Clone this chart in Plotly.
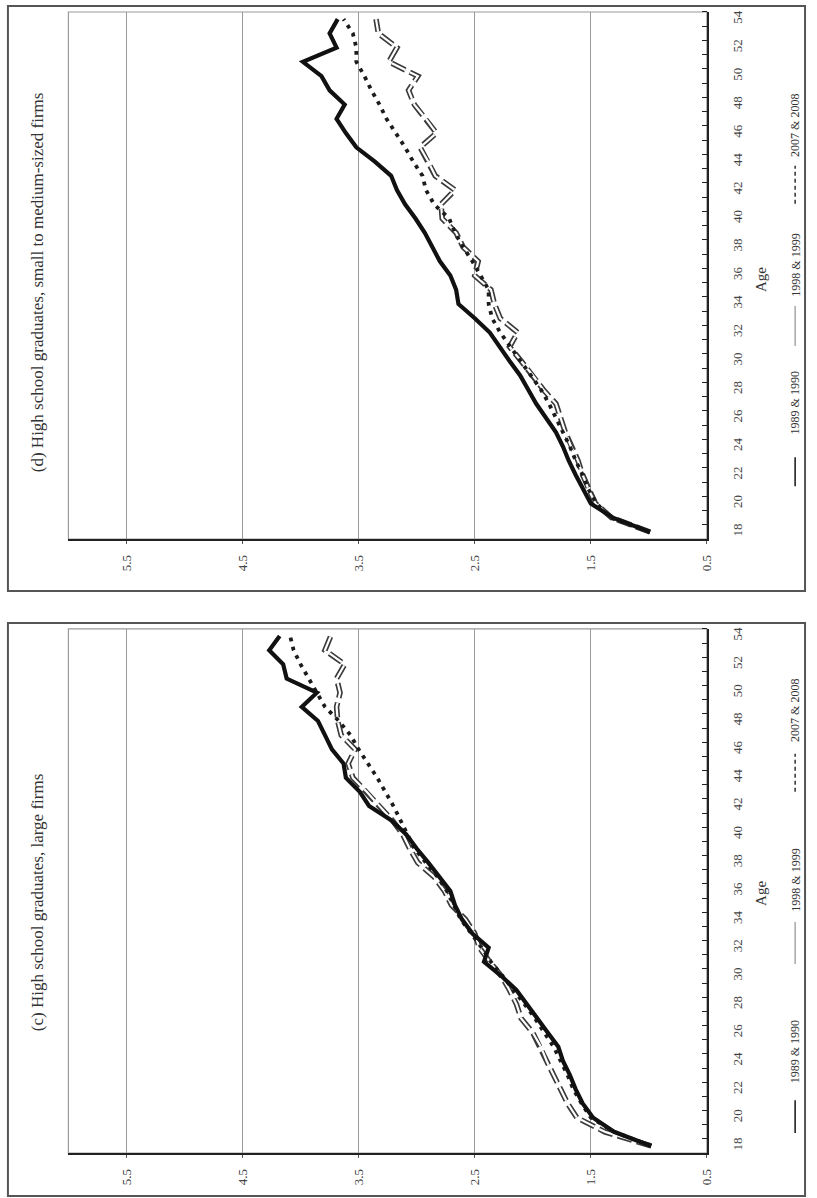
import plotly.graph_objects as go

# ---------------- data ----------------
ages = list(range(18, 55))
age_tick_vals = list(range(18, 55, 2))
age_tick_text = [str(a) for a in age_tick_vals]
value_tick_vals = [0.5, 1.5, 2.5, 3.5, 4.5, 5.5]
value_tick_text = ["0.5", "1.5", "2.5", "3.5", "4.5", "5.5"]
series_names = ["1989 & 1990", "1998 & 1999", "2007 & 2008"]

# (c) High school graduates, large firms
large_8990 = [0.98, 1.30, 1.48, 1.57, 1.63, 1.68, 1.74, 1.78, 1.87, 1.96,
              2.04, 2.14, 2.27, 2.42, 2.38, 2.52, 2.61, 2.67, 2.71, 2.80,
              2.90, 3.00, 3.09, 3.22, 3.41, 3.49, 3.61, 3.63, 3.73, 3.79,
              3.85, 3.99, 3.86, 4.12, 4.15, 4.27, 4.18]
large_9899 = [0.98, 1.30, 1.50, 1.58, 1.65, 1.70, 1.76, 1.82, 1.90, 1.98,
              2.07, 2.16, 2.26, 2.36, 2.44, 2.53, 2.62, 2.68, 2.74, 2.82,
              2.92, 3.02, 3.08, 3.14, 3.20, 3.27, 3.34, 3.42, 3.50, 3.57,
              3.67, 3.79, 3.86, 3.93, 4.00, 4.06, 4.09]
large_0708 = [0.98, 1.38, 1.62, 1.70, 1.76, 1.82, 1.88, 1.93, 2.00, 2.10,
              2.14, 2.20, 2.27, 2.37, 2.46, 2.50, 2.58, 2.70, 2.76, 2.85,
              2.99, 3.06, 3.12, 3.21, 3.32, 3.43, 3.55, 3.59, 3.53, 3.65,
              3.68, 3.69, 3.66, 3.69, 3.62, 3.79, 3.74]

# (d) High school graduates, small to medium-sized firms
small_8990 = [0.99, 1.31, 1.50, 1.57, 1.63, 1.69, 1.74, 1.80, 1.89, 1.97,
              2.04, 2.11, 2.20, 2.29, 2.37, 2.50, 2.64, 2.66, 2.71, 2.80,
              2.86, 2.93, 3.01, 3.10, 3.17, 3.22, 3.36, 3.52, 3.61, 3.69,
              3.62, 3.75, 3.82, 3.98, 3.69, 3.75, 3.68]
small_9899 = [0.99, 1.33, 1.45, 1.52, 1.57, 1.63, 1.68, 1.74, 1.80, 1.86,
              1.93, 2.02, 2.10, 2.20, 2.28, 2.35, 2.38, 2.38, 2.45, 2.52,
              2.60, 2.67, 2.72, 2.85, 2.92, 2.95, 3.03, 3.10, 3.18, 3.26,
              3.32, 3.39, 3.45, 3.52, 3.52, 3.55, 3.63]
small_0708 = [0.99, 1.32, 1.46, 1.52, 1.57, 1.61, 1.67, 1.72, 1.76, 1.80,
              1.91, 2.00, 2.10, 2.20, 2.13, 2.28, 2.33, 2.36, 2.50, 2.47,
              2.60, 2.66, 2.78, 2.79, 2.67, 2.84, 2.90, 2.97, 2.83, 2.92,
              3.02, 3.07, 2.99, 3.24, 3.17, 3.33, 3.35]

title_d = "(d) High school graduates, small to medium-sized firms"
title_c = "(c) High school graduates, large firms"

# ---------------- layout helpers ----------------
W, H = 817, 1198
FONT = "Liberation Serif"


def fx(p):
    return p / W


def fy(p):
    return 1 - p / H


fig = go.Figure()

panels = [
    dict(xa="x", ya="y", xkey="xaxis", ykey="yaxis",
         data=(small_8990, small_9899, small_0708), title=title_d,
         plot=(10, 538), box=(4, 590), title_y=281, age_y=278,
         leg=[((456, 485), 402), ((305, 344), 264), ((164, 202), 124)]),
    dict(xa="x2", ya="y2", xkey="xaxis2", ykey="yaxis2",
         data=(large_8990, large_9899, large_0708), title=title_c,
         plot=(628, 1153), box=(622, 1196), title_y=902, age_y=893,
         leg=[((1100, 1133), 1052), ((921, 963), 880), ((753, 791), 710)]),
]

PX0, PX1 = 69, 713
shapes = []
annotations = []

for p in panels:
    s89, s98, s07 = p["data"]
    common = dict(xaxis=p["xa"], yaxis=p["ya"], mode="lines",
                  showlegend=False, hoverinfo="skip")
    # 2007 & 2008 : hollow dashed line
    fig.add_trace(go.Scatter(x=s07, y=ages, name=series_names[2],
                             line=dict(color="#3a3a3a", width=5.5, dash="15px,5px"),
                             **common))
    fig.add_trace(go.Scatter(x=s07, y=ages, name=series_names[2],
                             line=dict(color="#ffffff", width=2.2, dash="15px,5px"),
                             **common))
    # 1998 & 1999 : dotted
    fig.add_trace(go.Scatter(x=s98, y=ages, name=series_names[1],
                             line=dict(color="#1c1c1c", width=3.8, dash="3.8px,5.5px"),
                             **common))
    # 1989 & 1990 : solid
    fig.add_trace(go.Scatter(x=s89, y=ages, name=series_names[0],
                             line=dict(color="#111111", width=4.2),
                             **common))

    t, b = p["plot"]
    fig.update_layout(**{
        p["xkey"]: dict(
            domain=[fx(PX0), fx(PX1)], anchor=p["ya"], range=[6.0, 0.5],
            tickmode="array", tickvals=value_tick_vals, ticktext=value_tick_text,
            tickangle=-90, showgrid=True, gridcolor="#9a9a9a", gridwidth=1.2,
            showline=True, linecolor="#222222", linewidth=1.6,
            ticks="outside", ticklen=3, tickcolor="#555555",
            zeroline=False, ticklabelstandoff=6,
            tickfont=dict(family=FONT, size=13, color="#444444"),
        ),
        p["ykey"]: dict(
            domain=[fy(b), fy(t)], anchor=p["xa"], side="right",
            range=[17.5, 54.5], tickmode="array", tickvals=age_tick_vals,
            ticktext=age_tick_text, tickangle=-90, showgrid=False,
            showline=True, linecolor="#222222", linewidth=1.6, ticks="",
            zeroline=False, ticklabelstandoff=18,
            minor=dict(tickmode="linear", tick0=17.5, dtick=1, ticks="inside",
                       ticklen=5, tickcolor="#222222", tickwidth=1.2),
            tickfont=dict(family=FONT, size=13, color="#444444"),
        ),
    })

    # plot-area frame (grey) and outer box
    shapes.append(dict(type="rect", xref="paper", yref="paper",
                       x0=fx(PX0), x1=fx(PX1), y0=fy(b), y1=fy(t),
                       line=dict(color="#9a9a9a", width=1.2), layer="below"))
    bt, bb = p["box"]
    shapes.append(dict(type="rect", xref="paper", yref="paper",
                       x0=fx(8), x1=fx(812), y0=fy(bb), y1=fy(bt),
                       line=dict(color="#555555", width=2)))

    # panel title
    annotations.append(dict(text=p["title"], xref="paper", yref="paper",
                            x=fx(38), y=fy(p["title_y"]), textangle=-90,
                            showarrow=False, xanchor="center", yanchor="middle",
                            font=dict(family=FONT, size=17, color="#333333")))
    # axis title
    annotations.append(dict(text="Age", xref="paper", yref="paper",
                            x=fx(767), y=fy(p["age_y"]), textangle=-90,
                            showarrow=False, xanchor="center", yanchor="middle",
                            font=dict(family=FONT, size=15, color="#333333")))
    # manual rotated legend
    dashes = ["solid", "1px,1px", "4px,3px"]
    widths = [1.6, 1.2, 1.4]
    for i, ((l0, l1), tc) in enumerate(p["leg"]):
        shapes.append(dict(type="line", xref="paper", yref="paper",
                           x0=fx(802), x1=fx(802), y0=fy(l1), y1=fy(l0),
                           line=dict(color="#222222", width=widths[i], dash=dashes[i])))
        annotations.append(dict(text=series_names[i], xref="paper", yref="paper",
                                x=fx(802), y=fy(tc), textangle=-90,
                                showarrow=False, xanchor="center", yanchor="middle",
                                font=dict(family=FONT, size=12, color="#333333")))

fig.update_layout(
    width=W, height=H, margin=dict(l=0, r=0, t=0, b=0),
    paper_bgcolor="white", plot_bgcolor="white",
    showlegend=False, shapes=shapes, annotations=annotations,
)

fig.write_html("out.html")
